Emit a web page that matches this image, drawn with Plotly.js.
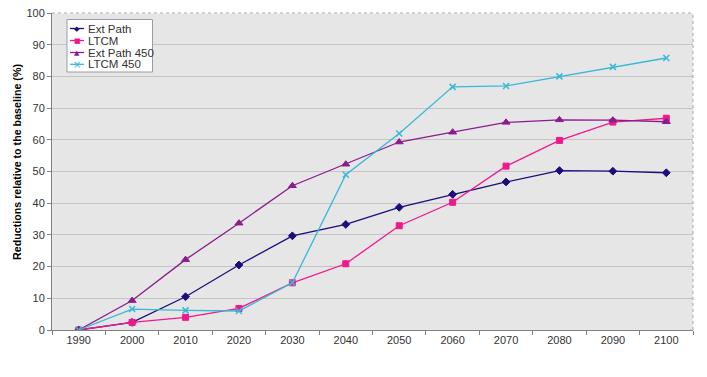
<!DOCTYPE html>
<html>
<head>
<meta charset="utf-8">
<script src="https://cdn.plot.ly/plotly-3.0.1.min.js"></script>
<style>html,body{margin:0;padding:0;background:#fff;}#chart{width:707px;height:377px;}</style>
</head>
<body>
<div id="chart"></div>
<script>
const years = ["1990","2000","2010","2020","2030","2040","2050","2060","2070","2080","2090","2100"];
const extPath = [0, 2.4, 10.5, 20.5, 29.7, 33.3, 38.7, 42.8, 46.7, 50.3, 50.1, 49.6];
const ltcm = [0, 2.4, 4.0, 6.8, 14.9, 20.9, 32.9, 40.3, 51.7, 59.8, 65.6, 66.8];
const extPath450 = [0, 9.3, 22.2, 33.7, 45.5, 52.3, 59.3, 62.4, 65.5, 66.3, 66.2, 65.7];
const ltcm450 = [0, 6.6, 6.2, 6.0, 14.9, 49.0, 62.0, 76.7, 77.0, 80.0, 83.0, 85.8];
const seriesNames = ["Ext Path", "LTCM", "Ext Path 450", "LTCM 450"];
const seriesColors = ["#1b0d7c", "#f0198c", "#8a1c8e", "#36b8d6"];
const legendSymbols = ["\u25C6", "\u25A0", "\u25B2", "\u00D7"];
const yTicks = [0,10,20,30,40,50,60,70,80,90,100];
const yTitle = "Reductions relative to the baseline (%)";

const FONT = "'Liberation Sans', Arial, sans-serif";

// plot area in pixels (for converting layout positions to paper coords)
const W = 707, H = 377, ML = 52, MR = 14, MT = 13, MB = 47;
const PW = W - ML - MR, PH = H - MT - MB;
const px = x => (x - ML) / PW;
const py = y => (H - MB - y) / PH;

function tr(i, y, symbol, size) {
  const c = seriesColors[i];
  return {
    type: "scatter", mode: "lines+markers", name: seriesNames[i], x: years, y: y,
    showlegend: false,
    line: {color: c, width: 1.3},
    marker: {color: c, symbol: symbol, size: size, line: {color: c, width: symbol === "x-thin" ? 1.5 : 1}}
  };
}

const data = [
  tr(0, extPath, "diamond", 6),
  tr(1, ltcm, "square", 6),
  tr(2, extPath450, "triangle-up", 7),
  tr(3, ltcm450, "x-thin", 6)
];

const shapes = [
  {type: "line", xref: "paper", yref: "paper", x0: 0, x1: 1, y0: 1, y1: 1, line: {color: "#ffffff", width: 1}},
  {type: "line", xref: "paper", yref: "paper", x0: 0, x1: 1, y0: 1, y1: 1, line: {color: "#a8a8a8", width: 1, dash: "dot"}},
  {type: "line", xref: "paper", yref: "paper", x0: 1, x1: 1, y0: 0, y1: 1, line: {color: "#a8a8a8", width: 1, dash: "dot"}},
  // legend box
  {type: "rect", xref: "paper", yref: "paper", x0: px(67), x1: px(152.5), y0: py(19.5), y1: py(72), fillcolor: "#ffffff", line: {color: "#9a9aa8", width: 1}}
];
const annotations = [
  {xref: "paper", yref: "paper", x: px(17.5), y: py(162.5), xanchor: "center", yanchor: "middle", showarrow: false, textangle: -90,
   text: yTitle, font: {family: FONT, size: 10.7, color: "#000000", weight: "bold"}}
];
const rowY = [28.5, 40.5, 52.5, 64.3];
seriesNames.forEach((n, i) => {
  shapes.push({type: "line", xref: "paper", yref: "paper", x0: px(70), x1: px(84), y0: py(rowY[i]), y1: py(rowY[i]), line: {color: seriesColors[i], width: 1.3}});
  annotations.push({xref: "paper", yref: "paper", x: px(77), y: py(rowY[i] + (i === 3 ? 0.5 : 0)), xanchor: "center", yanchor: "middle", showarrow: false,
    text: legendSymbols[i], font: {family: "'DejaVu Sans', sans-serif", size: i === 3 ? 10 : 7, color: seriesColors[i]}});
  annotations.push({xref: "paper", yref: "paper", x: px(86), y: py(rowY[i]), xanchor: "left", yanchor: "middle", showarrow: false,
    text: n, font: {family: FONT, size: 11.5, color: "#333333"}});
});

const layout = {
  width: W, height: H,
  margin: {l: ML, r: MR, t: MT, b: MB},
  paper_bgcolor: "#ffffff",
  plot_bgcolor: "#e6e6e6",
  font: {family: FONT, size: 11, color: "#333333"},
  showlegend: false,
  xaxis: {
    type: "category", categoryarray: years,
    tickson: "boundaries", ticks: "outside", ticklen: 4, tickcolor: "#808080",
    showline: true, linecolor: "#808080", linewidth: 1,
    showgrid: false, zeroline: false,
    tickfont: {family: FONT, size: 11, color: "#333333"},
    range: [-0.5, 11.5]
  },
  yaxis: {
    range: [0, 100], tickvals: yTicks, ticktext: yTicks.map(String),
    ticks: "outside", ticklen: 4, tickcolor: "#808080",
    showline: true, linecolor: "#808080", linewidth: 1,
    showgrid: true, gridcolor: "#c4c4c4", gridwidth: 1,
    zeroline: false,
    tickfont: {family: FONT, size: 11, color: "#333333"}
  },
  shapes: shapes,
  annotations: annotations
};

Plotly.newPlot("chart", data, layout, {displayModeBar: false, staticPlot: true});
</script>
</body>
</html>
